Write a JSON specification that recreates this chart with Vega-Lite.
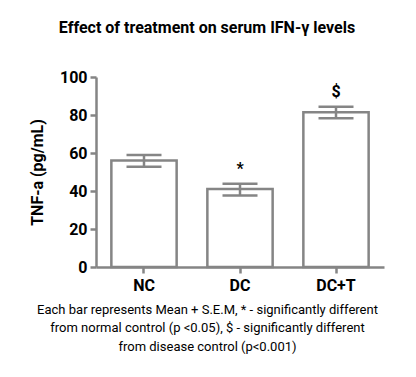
{
  "$schema": "https://vega.github.io/schema/vega-lite/v6.json",
  "autosize": {"type": "none"},
  "width": 288,
  "height": 190,
  "padding": {"left": 96, "top": 77, "right": 32, "bottom": 110},
  "background": "white",
  "title": {
    "text": "Effect of treatment on serum IFN-γ levels",
    "font": "Roboto",
    "fontSize": 16,
    "fontWeight": "bold",
    "color": "black",
    "anchor": "middle",
    "dx": -33,
    "offset": 33
  },
  "config": {
    "view": {"stroke": null},
    "font": "Roboto",
    "axisY": {
      "labelOverlap": false,
      "labelBound": false,
      "grid": false,
      "labelFont": "Roboto",
      "labelFontSize": 16,
      "labelFontWeight": "bold",
      "labelColor": "black",
      "labelPadding": 3,
      "domainColor": "#858585",
      "domainWidth": 2.5,
      "tickColor": "#858585",
      "tickWidth": 2.5,
      "tickSize": 6,
      "titleFont": "Roboto",
      "titleFontSize": 16,
      "titleFontWeight": "bold",
      "titleColor": "black",
      "titlePadding": 14
    }
  },
  "data": {
    "values": [
      {"group": "NC", "mean": 56, "lo": 52.8, "hi": 58.9, "sig": ""},
      {"group": "DC", "mean": 41, "lo": 37.6, "hi": 43.8, "sig": "*"},
      {"group": "DC+T", "mean": 81.5, "lo": 78.3, "hi": 84.4, "sig": "$"}
    ]
  },
  "encoding": {
    "x": {
      "field": "group",
      "type": "nominal",
      "sort": ["NC", "DC", "DC+T"],
      "scale": {"paddingInner": 0.32, "paddingOuter": 0.16},
      "axis": {
        "labelAngle": 0,
        "labelFont": "Roboto",
        "labelFontSize": 16,
        "labelFontWeight": "bold",
        "labelColor": "black",
        "labelPadding": 4,
        "domainColor": "#858585",
        "domainWidth": 2.5,
        "tickColor": "#858585",
        "tickWidth": 2.5,
        "tickSize": 6,
        "title": [
          "Each bar represents Mean + S.E.M, * - significantly different",
          "from normal control (p <0.05), $ - significantly different",
          "from disease control (p<0.001)"
        ],
        "titleFont": "Roboto",
        "titleFontSize": 13,
        "titleFontWeight": "normal",
        "titleColor": "black",
        "titleLineHeight": 18.5,
        "titlePadding": 10,
        "titleX": 111,
        "titleAlign": "center"
      }
    }
  },
  "layer": [
    {
      "mark": {"type": "bar", "fill": "white", "stroke": "#858585", "strokeWidth": 2.5},
      "encoding": {
        "y": {
          "field": "mean",
          "type": "quantitative",
          "scale": {"domain": [0, 100], "nice": false},
          "axis": {"values": [0, 20, 40, 60, 80, 100], "title": "TNF-a (pg/mL)"}
        }
      }
    },
    {
      "mark": {"type": "rule", "stroke": "#858585", "strokeWidth": 2.5},
      "encoding": {
        "y": {"field": "lo", "type": "quantitative", "axis": {"values": [0, 20, 40, 60, 80, 100], "title": "TNF-a (pg/mL)"}},
        "y2": {"field": "hi"}
      }
    },
    {
      "mark": {"type": "tick", "color": "#858585", "thickness": 2.5, "size": 35, "opacity": 1},
      "encoding": {"y": {"field": "lo", "type": "quantitative", "axis": {"values": [0, 20, 40, 60, 80, 100], "title": "TNF-a (pg/mL)"}}}
    },
    {
      "mark": {"type": "tick", "color": "#858585", "thickness": 2.5, "size": 35, "opacity": 1},
      "encoding": {"y": {"field": "hi", "type": "quantitative", "axis": {"values": [0, 20, 40, 60, 80, 100], "title": "TNF-a (pg/mL)"}}}
    },
    {
      "mark": {"type": "text", "font": "Roboto", "fontSize": 16, "fontWeight": "bold", "color": "black", "baseline": "alphabetic", "dy": -10},
      "encoding": {
        "y": {"field": "hi", "type": "quantitative", "axis": {"values": [0, 20, 40, 60, 80, 100], "title": "TNF-a (pg/mL)"}},
        "text": {"field": "sig"}
      }
    }
  ]
}
